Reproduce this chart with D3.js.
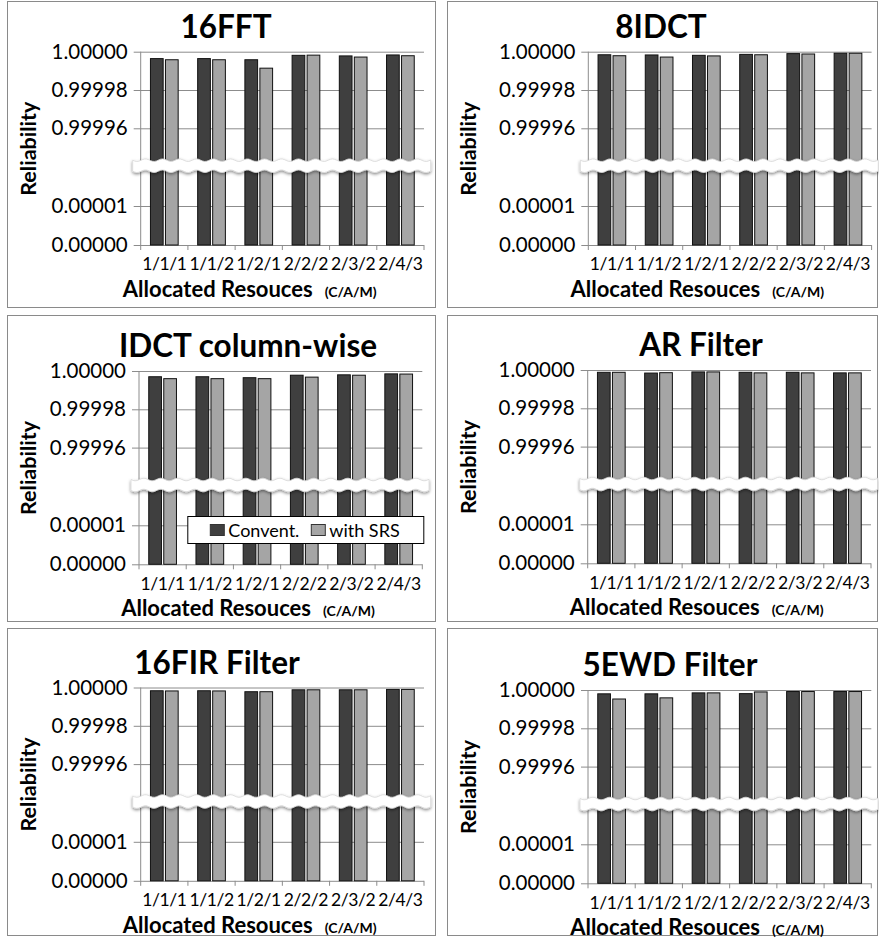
<!DOCTYPE html>
<html>
<head>
<meta charset="utf-8">
<script src="https://cdn.jsdelivr.net/npm/d3@7"></script>
<style>
  body { margin: 0; background: #fff; }
  svg { font-family: Lato, "Open Sans", sans-serif; }
</style>
</head>
<body>
<script>
// values
const categories = ["1/1/1", "1/1/2", "1/2/1", "2/2/2", "2/3/2", "2/4/3"];
const series = ["Convent.", "with SRS"];
const titles = ["16FFT", "8IDCT", "IDCT column-wise", "AR Filter", "16FIR Filter", "5EWD Filter"];
const topTicks = [1.0, 0.99998, 0.99996];
const bottomTicks = [0.00001, 0.0];

const conv16FFT = [0.9999964, 0.9999964, 0.9999958, 0.9999981, 0.9999978, 0.9999983];
const srs16FFT  = [0.9999958, 0.9999958, 0.9999914, 0.9999982, 0.9999972, 0.9999979];
const conv8IDCT = [0.9999984, 0.9999983, 0.9999981, 0.9999986, 0.9999990, 0.9999992];
const srs8IDCT  = [0.9999979, 0.9999972, 0.9999978, 0.9999984, 0.9999988, 0.9999992];
const convIDCTcol = [0.9999970, 0.9999970, 0.9999965, 0.9999978, 0.9999980, 0.9999985];
const srsIDCTcol  = [0.9999960, 0.9999960, 0.9999960, 0.9999968, 0.9999978, 0.9999984];
const convAR = [0.9999988, 0.9999984, 0.9999990, 0.9999988, 0.9999988, 0.9999985];
const srsAR  = [0.9999988, 0.9999986, 0.9999990, 0.9999985, 0.9999985, 0.9999985];
const conv16FIR = [0.9999983, 0.9999983, 0.9999978, 0.9999988, 0.9999988, 0.9999990];
const srs16FIR  = [0.9999982, 0.9999982, 0.9999978, 0.9999988, 0.9999988, 0.9999990];
const conv5EWD = [0.9999980, 0.9999980, 0.9999985, 0.9999981, 0.9999992, 0.9999992];
const srs5EWD  = [0.9999953, 0.9999959, 0.9999985, 0.9999990, 0.9999992, 0.9999992];

const convAll = [conv16FFT, conv8IDCT, convIDCTcol, convAR, conv16FIR, conv5EWD];
const srsAll  = [srs16FFT, srs8IDCT, srsIDCTcol, srsAR, srs16FIR, srs5EWD];

// panel layout: frame, y-axis x, y of the 1.00000 line, title centre
const layout = [
  {box: [7, 1, 428, 306],   ox: 140.7, oy: 51.7, tx: 226},
  {box: [447, 1, 430, 306], ox: 588.3, oy: 51.7, tx: 661},
  {box: [7, 315, 428, 306], ox: 139,   oy: 371,  tx: 248, legend: true},
  {box: [447, 315, 430, 306], ox: 587.7, oy: 370, tx: 701},
  {box: [7, 628, 428, 307], ox: 140.7, oy: 687.5, tx: 217},
  {box: [447, 628, 430, 307], ox: 588,  oy: 690,  tx: 670}
];

const colors = {"Convent.": "#3f3f3f", "with SRS": "#a5a5a5"};
const plotW = 283.3;
const fmt = d3.format(".5f");

const svg = d3.select("body").append("svg")
  .attr("width", 879)
  .attr("height", 945);

svg.append("rect").attr("width", 879).attr("height", 945).attr("fill", "#fff");

const defs = svg.append("defs");
const flt = defs.append("filter").attr("id", "shadow")
  .attr("x", "-5%").attr("y", "-60%").attr("width", "110%").attr("height", "220%");
flt.append("feDropShadow").attr("dx", 0).attr("dy", 1.5)
  .attr("stdDeviation", 1.4).attr("flood-color", "#000").attr("flood-opacity", 0.45);

// wavy edge for the axis break
function wave(x0, x1, y, amp, reverse) {
  const pts = d3.range(x0, x1 + 0.1, 2).map(x => [x, y + amp * Math.sin((x - x0) / 17 * 2 * Math.PI)]);
  return reverse ? pts.reverse() : pts;
}

layout.forEach((p, i) => {
  const {ox, oy} = p;
  const g = svg.append("g");

  g.append("rect")
    .attr("x", p.box[0] + 0.5).attr("y", p.box[1] + 0.5)
    .attr("width", p.box[2]).attr("height", p.box[3])
    .attr("fill", "#fff").attr("stroke", "#8a8a8a");

  const yTop = d3.scaleLinear().domain([0.99994, 1]).range([oy + 114.9, oy]);
  const yBot = d3.scaleLinear().domain([0, 0.00002]).range([oy + 193.3, oy + 115.3]);

  const x0 = d3.scaleBand().domain(categories).range([ox, ox + plotW]);
  const x1 = d3.scaleBand().domain(series).range([0, x0.bandwidth()])
    .paddingInner(0.153).paddingOuter(0.65);

  // gridlines + tick labels
  const gridAxis = (scale, ticks) => d3.axisLeft(scale)
    .tickValues(ticks).tickFormat(fmt).tickSize(-plotW).tickPadding(13);

  [[yTop, topTicks], [yBot, bottomTicks]].forEach(([sc, tk]) => {
    g.append("g")
      .attr("transform", `translate(${ox},0)`)
      .call(gridAxis(sc, tk))
      .call(a => a.select(".domain").remove())
      .call(a => a.selectAll(".tick line").attr("x1", -7).attr("stroke", "#8c8c8c"))
      .call(a => a.selectAll(".tick text")
        .attr("font-size", 20.5).attr("fill", "#000")
        .attr("font-family", "Lato, sans-serif"));
  });

  // y axis line
  g.append("line")
    .attr("x1", ox).attr("x2", ox)
    .attr("y1", yTop(1)).attr("y2", yBot(0))
    .attr("stroke", "#8c8c8c");

  // bars
  const rows = categories.map((c, j) => ({cat: c, vals: [convAll[i][j], srsAll[i][j]]}));
  g.append("g")
    .selectAll("g")
    .data(rows)
    .join("g")
      .attr("transform", d => `translate(${x0(d.cat)},0)`)
    .selectAll("rect")
    .data(d => d.vals.map((v, k) => ({s: series[k], v})))
    .join("rect")
      .attr("x", d => x1(d.s))
      .attr("width", x1.bandwidth())
      .attr("y", d => yTop(d.v))
      .attr("height", d => yBot(0) - yTop(d.v))
      .attr("fill", d => colors[d.s])
      .attr("stroke", "#111")
      .attr("stroke-width", 1);

  // x axis tick marks between categories
  const bounds = categories.map(c => x0(c)).concat([x0.range()[1]]);
  g.append("g").selectAll("line")
    .data(bounds)
    .join("line")
      .attr("x1", d => d).attr("x2", d => d)
      .attr("y1", yBot(0)).attr("y2", yBot(0) + 5)
      .attr("stroke", "#8c8c8c");

  g.append("g")
    .attr("transform", `translate(0,${yBot(0)})`)
    .call(d3.axisBottom(x0).tickSize(0).tickPadding(13))
    .call(a => a.select(".domain").remove())
    .call(a => a.selectAll(".tick text")
      .attr("font-size", 17.5).attr("fill", "#000")
      .attr("letter-spacing", -0.4)
      .attr("font-family", "Lato, sans-serif"));

  // axis break band
  const top = wave(ox - 8, ox + 291, oy + 108.5, 1.3, false);
  const bot = wave(ox - 8, ox + 291, oy + 119.5, 1.3, true);
  g.append("path")
    .attr("d", d3.line()(top.concat(bot)) + "Z")
    .attr("fill", "#fff")
    .attr("stroke", "#d8d8d8")
    .attr("stroke-width", 0.8)
    .attr("filter", "url(#shadow)");

  // title
  g.append("text")
    .attr("x", p.tx).attr("y", oy - 14)
    .attr("text-anchor", "middle")
    .attr("font-size", 31.5).attr("font-weight", "bold")
    .text(titles[i]);

  // y title
  g.append("text")
    .attr("transform", `translate(${p.box[0] + 21},${oy + 97}) rotate(-90)`)
    .attr("text-anchor", "middle")
    .attr("dominant-baseline", "central")
    .attr("font-size", 21.5).attr("font-weight", "bold")
    .text("Reliability");

  // x title
  const xt = g.append("text")
    .attr("x", ox + 109).attr("y", oy + 245)
    .attr("text-anchor", "middle")
    .attr("font-weight", "bold");
  xt.append("tspan").attr("font-size", 22).text("Allocated Resouces");
  xt.append("tspan").attr("font-size", 14).attr("dx", 12).text("(C/A/M)");

  if (p.legend) {
    const lg = g.append("g").attr("transform", `translate(${ox + 48.3},${oy + 145})`);
    lg.append("rect")
      .attr("x", 0.5).attr("y", 0.5).attr("width", 236).attr("height", 27)
      .attr("fill", "#fff").attr("stroke", "#000");
    const items = lg.selectAll("g.item")
      .data(series)
      .join("g")
        .attr("class", "item")
        .attr("transform", (d, k) => `translate(${k === 0 ? 23 : 124},0)`);
    items.append("rect")
      .attr("x", 0).attr("y", 8.5).attr("width", 14).attr("height", 11)
      .attr("fill", d => colors[d]).attr("stroke", "#333");
    items.append("text")
      .attr("x", 18).attr("y", 20.5)
      .attr("font-size", 18)
      .text(d => d);
  }
});
</script>
</body>
</html>
